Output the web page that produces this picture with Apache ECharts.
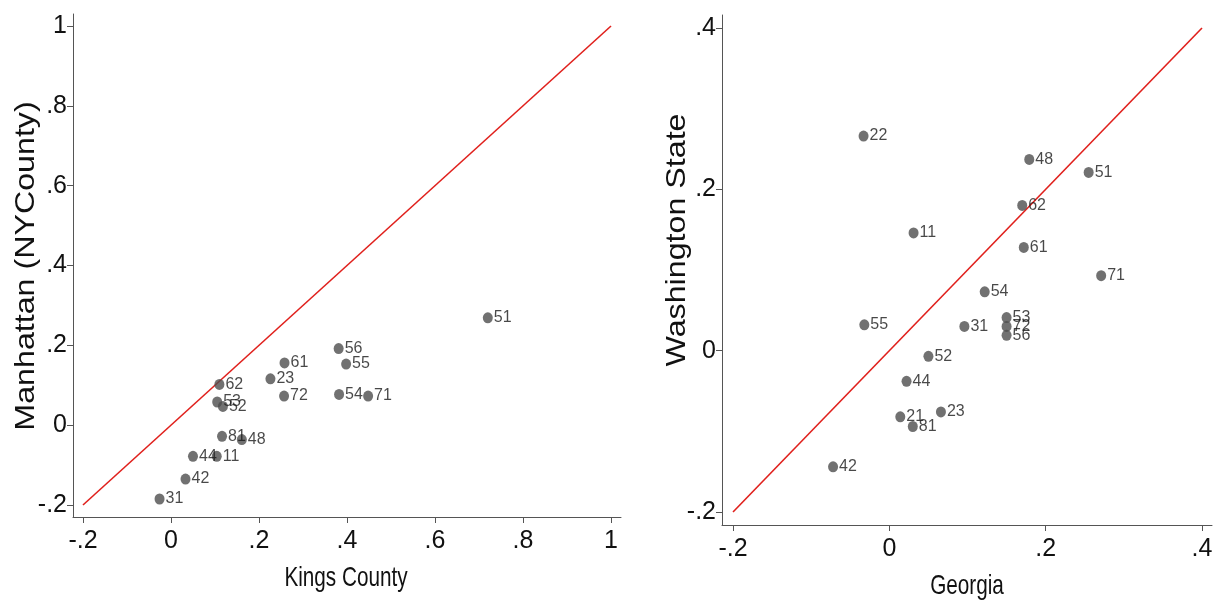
<!DOCTYPE html>
<html>
<head>
<meta charset="utf-8">
<script src="https://cdn.jsdelivr.net/npm/echarts@6/dist/echarts.min.js"></script>
<style>
  html, body { margin: 0; padding: 0; background: #fff; }
  #chart { width: 1216px; height: 601px; }
</style>
</head>
<body>
<div id="chart"></div>
<script>
// Left panel: Kings County (x) vs Manhattan (y), labelled by code
const codesLeft = ['51','56','55','61','23','62','72','54','71','53','52','81','48','44','11','42','31'];
const kingsCounty = [0.720,0.381,0.398,0.258,0.226,0.110,0.257,0.382,0.448,0.105,0.118,0.116,0.161,0.050,0.104,0.033,-0.026];
const manhattan   = [0.269,0.192,0.153,0.156,0.116,0.102,0.073,0.077,0.073,0.058,0.047,-0.028,-0.036,-0.078,-0.078,-0.135,-0.185];

// Right panel: Georgia (x) vs Washington State (y)
const codesRight = ['22','48','51','62','11','61','71','54','55','31','53','72','56','52','44','23','21','81','42'];
const georgia    = [-0.033,0.179,0.255,0.170,0.031,0.172,0.271,0.122,-0.032,0.096,0.150,0.150,0.150,0.050,0.022,0.066,0.014,0.030,-0.072];
const washington = [0.266,0.237,0.221,0.180,0.146,0.128,0.093,0.073,0.032,0.030,0.041,0.030,0.019,-0.007,-0.038,-0.076,-0.082,-0.094,-0.144];

// Tick values and 45-degree reference line ends
const ticksLeft  = [-0.2, 0, 0.2, 0.4, 0.6, 0.8, 1];
const ticksRight = [-0.2, 0, 0.2, 0.4];
const diagLeft  = [[-0.2, -0.2], [1, 1]];
const diagRight = [[-0.2, -0.2], [0.4, 0.4]];

function fmtTick(v) {
  const r = Math.round(v * 10) / 10;
  if (r === 0) return '0';
  if (r === 1) return '1';
  return String(r).replace('0.', '.');
}

const font = 'Liberation Sans';
const axisColor = '#555';

function valueAxis(gridIndex, min, max, ticks, isX) {
  return {
    type: 'value', gridIndex, min, max,
    splitLine: { show: false },
    axisLine: { show: true, onZero: false, lineStyle: { color: axisColor, width: 1 } },
    axisTick: { show: true, length: 6, customValues: ticks, lineStyle: { color: axisColor } },
    axisLabel: {
      customValues: ticks,
      formatter: fmtTick,
      fontFamily: font, fontSize: 25, color: '#111',
      margin: isX ? 12 : 6
    }
  };
}

function points(xs, ys, codes) {
  return xs.map((x, i) => [x, ys[i], codes[i]]);
}

function scatter(idx, xs, ys, codes) {
  return {
    type: 'scatter', xAxisIndex: idx, yAxisIndex: idx,
    data: points(xs, ys, codes),
    symbol: 'circle', symbolSize: [10, 11],
    itemStyle: { color: '#4d4d4d' },
    label: {
      show: true, position: 'right', distance: 1,
      formatter: p => p.value[2],
      fontFamily: font, fontSize: 16, color: '#1a1a1a'
    },
    labelLayout: { hideOverlap: false },
    z: 3
  };
}

function diag(idx, pts) {
  return {
    type: 'line', xAxisIndex: idx, yAxisIndex: idx,
    data: pts, symbol: 'none',
    lineStyle: { color: '#e0201c', width: 1.6 },
    z: 2, silent: true
  };
}

function title(text, x, y, rot, sx) {
  return {
    type: 'text', x, y, rotation: rot, scaleX: sx, scaleY: 1,
    style: {
      text, fontFamily: font, fontSize: 28, fill: '#111',
      align: 'center', verticalAlign: 'middle'
    }
  };
}

const chart = echarts.init(document.getElementById('chart'), null, { renderer: 'canvas' });
chart.setOption({
  backgroundColor: '#fff',
  animation: false,
  grid: [
    { left: 73, top: 14, width: 548, height: 503 },
    { left: 722, top: 15, width: 490, height: 510 }
  ],
  xAxis: [
    valueAxis(0, -0.2227, 1.0227, ticksLeft, true),
    valueAxis(1, -0.2141, 0.4128, ticksRight, true)
  ],
  yAxis: [
    valueAxis(0, -0.2301, 1.0301, ticksLeft, false),
    valueAxis(1, -0.2161, 0.4161, ticksRight, false)
  ],
  series: [
    diag(0, diagLeft),
    scatter(0, kingsCounty, manhattan, codesLeft),
    diag(1, diagRight),
    scatter(1, georgia, washington, codesRight)
  ],
  graphic: [
    title('Kings County', 346, 578, 0, 0.74),
    title('Manhattan (NYCounty)', 26, 266, Math.PI / 2, 1.15),
    title('Georgia', 967, 586, 0, 0.74),
    title('Washington State', 677, 240, Math.PI / 2, 1.15)
  ]
});
</script>
</body>
</html>
